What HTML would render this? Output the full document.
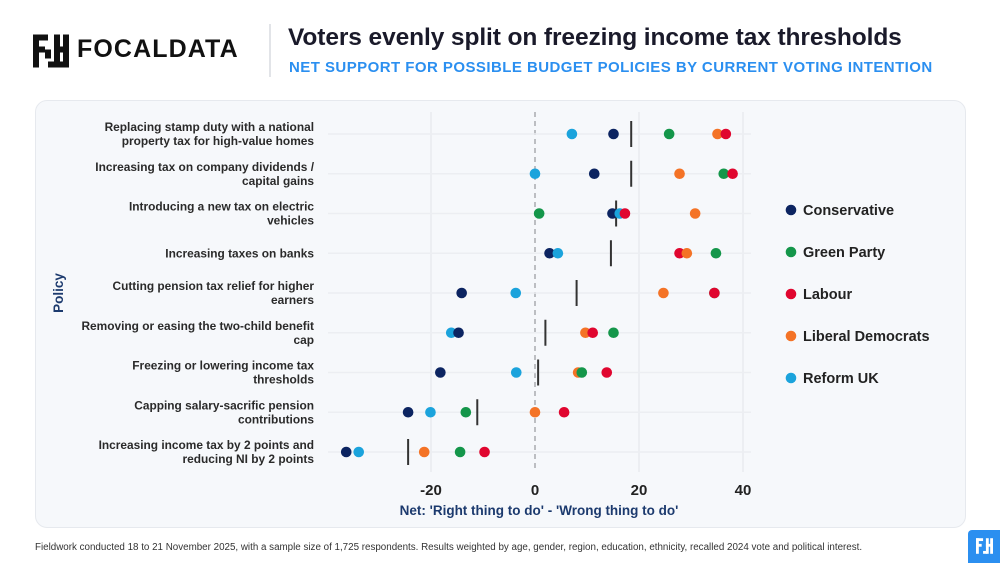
<!DOCTYPE html>
<html><head><meta charset="utf-8"><style>
body{margin:0;width:1000px;height:563px;background:#fff;font-family:"Liberation Sans",sans-serif;position:relative;overflow:hidden}
.abs{position:absolute}
</style></head><body>
<div class="abs" style="left:33px;top:34px">
<svg width="36" height="34" viewBox="0 0 12 11"><g fill="#111"><rect x="0" y="0" width="5" height="2"/><rect x="0" y="0" width="2" height="11"/><rect x="0" y="4" width="4" height="2"/><rect x="4" y="5" width="2" height="3"/><rect x="5" y="9" width="3" height="2"/><rect x="7" y="0" width="2" height="11"/><rect x="10" y="0" width="2" height="11"/><rect x="7" y="4" width="5" height="2"/><rect x="7" y="9" width="5" height="2"/></g></svg>
</div>
<div class="abs" style="left:77px;top:35px;font-size:25px;font-weight:bold;color:#111;letter-spacing:1.1px">FOCALDATA</div>
<div class="abs" style="left:269px;top:24px;width:2px;height:53px;background:#e2e4e8"></div>
<div class="abs" style="left:288px;top:24px;font-size:24.5px;font-weight:bold;color:#1a1a2a;letter-spacing:-0.1px">Voters evenly split on freezing income tax thresholds</div>
<div class="abs" style="left:289px;top:59px;font-size:15px;font-weight:bold;color:#2b8ff0;letter-spacing:0.45px">NET SUPPORT FOR POSSIBLE BUDGET POLICIES BY CURRENT VOTING INTENTION</div>
<div class="abs" style="left:35px;top:100px;width:931px;height:428px;background:#f6f8fb;border:1px solid #e6e9ee;border-radius:12px;box-sizing:border-box"></div>
<svg class="abs" style="left:0;top:0" width="1000" height="563" id="chart"></svg>
<div class="abs" style="left:35px;top:542px;font-size:9.8px;color:#333">Fieldwork conducted 18 to 21 November 2025, with a sample size of 1,725 respondents. Results weighted by age, gender, region, education, ethnicity, recalled 2024 vote and political interest.</div>
<div class="abs" style="left:968px;top:530px;width:32px;height:33px;background:#2b8ff0;border-radius:4px 0 0 0">
<svg style="position:absolute;left:8px;top:8px" width="17" height="16" viewBox="0 0 12 11"><g fill="#fff"><rect x="0" y="0" width="5" height="2"/><rect x="0" y="0" width="2" height="11"/><rect x="0" y="4" width="4" height="2"/><rect x="5" y="9" width="3" height="2"/><rect x="7" y="0" width="2" height="11"/><rect x="10" y="0" width="2" height="11"/><rect x="7" y="4" width="5" height="2"/></g></svg>
</div>
<script>
const policies=[["Replacing stamp duty with a national","property tax for high-value homes"],["Increasing tax on company dividends /","capital gains"],["Introducing a new tax on electric","vehicles"],["Increasing taxes on banks"],["Cutting pension tax relief for higher","earners"],["Removing or easing the two-child benefit","cap"],["Freezing or lowering income tax","thresholds"],["Capping salary-sacrific pension","contributions"],["Increasing income tax by 2 points and","reducing NI by 2 points"]];
const parties=["Conservative","Green Party","Labour","Liberal Democrats","Reform UK"];
const colors=["#0c2461","#14964a","#e0062f","#f47326","#1ba3dc"];
const overall=[18.5,18.5,15.6,14.6,8.0,2.0,0.6,-11.1,-24.4];
const conservative=[15.1,11.4,14.9,2.8,-14.1,-14.7,-18.2,-24.4,-36.3];
const green=[25.8,36.3,0.8,34.8,34.5,15.1,9.0,-13.3,-14.4];
const labour=[36.7,38.0,17.3,27.8,34.5,11.1,13.8,5.6,-9.7];
const libdem=[35.1,27.8,30.8,29.2,24.7,9.7,8.3,0.0,-21.3];
const reform=[7.1,0.0,16.3,4.4,-3.7,-16.1,-3.6,-20.1,-33.9];
const xticks=[-20,0,20,40];
const series=[conservative,green,labour,libdem,reform];
const NS="http://www.w3.org/2000/svg";
const svg=document.getElementById('chart');
const x=v=>535+v*5.2;
const y=i=>134+i*39.75;
function mk(t,a){const e=document.createElementNS(NS,t);for(const k in a)e.setAttribute(k,a[k]);svg.appendChild(e);return e;}
xticks.forEach(t=>{
 const g=mk('line',{x1:x(t),x2:x(t),y1:112,y2:472,stroke:t===0?'#a8aab0':'#e8ebf0','stroke-width':1.5,'stroke-dasharray':t===0?'5,4':''});
 
 
 const tl=mk('text',{x:x(t),y:495,'text-anchor':'middle','font-size':15,'font-weight':'bold',fill:'#222','font-family':'Liberation Sans'});
 tl.textContent=t;
 
 
});
policies.forEach((p,i)=>{
 const gl=mk('line',{x1:328,x2:751,y1:y(i),y2:y(i),stroke:'#eceef2','stroke-width':1.5});
 
 
 const t=mk('text',{x:314,'text-anchor':'end','font-size':11.9,'font-weight':'bold',fill:'#2a2a2a','font-family':'Liberation Sans'});
 
 
 const y0=p.length===1?y(i)+4:y(i)-3;
 p.forEach((ln,j)=>{const ts=document.createElementNS(NS,'tspan');ts.setAttribute('x',314);ts.setAttribute('y',y0+j*14);ts.textContent=ln;t.appendChild(ts);});
 const ol=mk('line',{x1:x(overall[i]),x2:x(overall[i]),y1:y(i)-13,y2:y(i)+13,stroke:'#333','stroke-width':2});
 
 
});
policies.forEach((p,i)=>{
 const pts=series.map((s,k)=>({v:s[i],k:k})).sort((a,b)=>a.v-b.v);
 pts.forEach(o=>{
  const c=mk('circle',{cx:x(o.v),cy:y(i),r:5.3,fill:colors[o.k]});
  
  
 });
});
parties.forEach((p,i)=>{
 const c=mk('circle',{cx:791,cy:210+i*42,r:5.3,fill:colors[i]});
 
 
 const t=mk('text',{x:803,y:215+i*42,'font-size':14.5,'font-weight':'bold',fill:'#222','font-family':'Liberation Sans'});
 t.textContent=p;
 
 
});
const xt=mk('text',{x:539,y:515,'text-anchor':'middle','font-size':13.5,'font-weight':'bold',fill:'#1c3a6e','font-family':'Liberation Sans'});
xt.textContent="Net: 'Right thing to do' - 'Wrong thing to do'";


const yt=mk('text',{x:0,y:0,'text-anchor':'middle','font-size':13.5,'font-weight':'bold',fill:'#1c3a6e','font-family':'Liberation Sans',transform:'translate(63,293) rotate(-90)'});
yt.textContent='Policy';


</script>
</body></html>
